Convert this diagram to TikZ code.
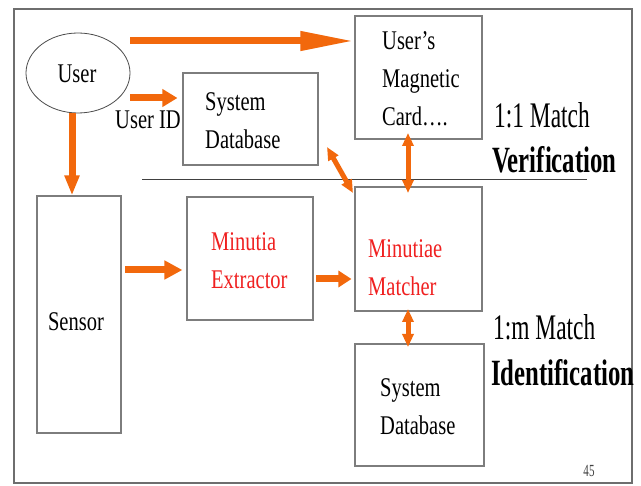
\documentclass[tikz,border=0pt]{standalone}
\usepackage{fontspec}
\setmainfont{Liberation Serif}
\newfontfamily\boxfont[FakeStretch=0.76]{Liberation Serif}
\newfontfamily\labfont[FakeStretch=0.65]{Liberation Serif}
\newfontfamily\blabfont[FakeStretch=0.67]{Liberation Serif}
\usetikzlibrary{arrows.meta,calc,shapes.geometric}
\definecolor{arrorange}{RGB}{242,104,12}
\definecolor{redtxt}{RGB}{240,32,32}
\definecolor{boxgray}{RGB}{125,125,125}
\definecolor{framegray}{RGB}{110,110,110}
\tikzset{
  boxnode/.style={draw=boxgray, line width=1.1pt, rectangle, inner sep=0pt},
  txt/.style={font=\boxfont\fontsize{27}{38}\selectfont, align=left, inner sep=0pt},
  redt/.style={txt, text=redtxt},
  lab/.style={font=\labfont\fontsize{36}{40}\selectfont, inner sep=0pt, anchor=west},
  blab/.style={font=\blabfont\bfseries\fontsize{37}{40}\selectfont, inner sep=0pt, anchor=west},
  oarrow/.style={draw=arrorange, line width=7pt},
  darrow/.style={draw=arrorange, line width=5pt, {Triangle[length=13pt,width=11pt]}-{Triangle[length=13pt,width=11pt]}},
}
\begin{document}
\begin{tikzpicture}[x=1pt,y=-1pt]
\useasboundingbox (0,0) rectangle (641,486);
\fill[white] (0,0) rectangle (641,486);
% frame
\draw[framegray, line width=1.3pt] (14,9) rectangle (632,483);

% nodes
\node[ellipse, draw=black!70, line width=0.8pt, minimum width=104pt, minimum height=80pt, inner sep=0pt] (user) at (78,73) {};
\node[txt] (usertxt) at (77,74) {User};

\node[boxnode, minimum width=127pt, minimum height=123pt] (card) at (418.5,77.5) {};
\node[txt, anchor=west] (cardtxt) at (382,79) {User’s\\Magnetic\\Card\ldots.};

\node[boxnode, minimum width=135pt, minimum height=92pt] (db1) at (250.5,119) {};
\node[txt, anchor=west] (db1txt) at (205,121) {System\\Database};

\node[boxnode, minimum width=84pt, minimum height=237pt] (sensor) at (79,314.5) {};
\node[txt] (sensortxt) at (76,322) {Sensor};

\node[boxnode, minimum width=126pt, minimum height=123pt] (extr) at (250,258.5) {};
\node[redt, anchor=west] (extrtxt) at (211,261) {Minutia\\Extractor};

\node[boxnode, minimum width=127pt, minimum height=124pt] (match) at (418.5,249) {};
\node[redt, anchor=west] (matchtxt) at (368,268) {Minutiae\\Matcher};

\node[boxnode, minimum width=129pt, minimum height=122pt] (db2) at (419.5,405) {};
\node[txt, anchor=west] (db2txt) at (380,407) {System\\Database};

\node[txt] (userid) at (148,120) {User ID};

\node[lab] (m11) at (494,115) {1:1 Match};
\node[blab] (verif) at (492,160) {Verification};
\node[lab] (m1m) at (493,327) {1:m Match};
\node[blab] (ident) at (491,373) {Identification};

\node[font=\labfont\fontsize{17}{17}\selectfont, text=black!75, inner sep=0pt] (pg) at (589,471) {45};

% separator line
\coordinate (sepL) at (142,180);
\coordinate (sepR) at (587,180);
\draw[black!75, line width=1pt] (sepL) -- (sepR);

% arrows
\coordinate (a1s) at (130,41);
\draw[oarrow, -{Triangle[length=54pt,width=18pt]}] (a1s) -- (a1s -| card.west);

\coordinate (a2s) at (130,98);
\draw[oarrow, -{Triangle[length=15pt,width=17pt]}, shorten >=5pt] (a2s) -- (a2s -| db1.west);

\coordinate (a3s) at (72,113);
\draw[oarrow, -{Triangle[length=20pt,width=14pt]}] (a3s) -- (a3s |- sensor.north);

\coordinate (a4s) at (125,270);
\draw[oarrow, -{Triangle[length=18pt,width=18pt]}, shorten >=4pt] (a4s) -- (a4s -| extr.west);

\coordinate (a5s) at (316,279);
\draw[oarrow, -{Triangle[length=13pt,width=16pt]}, shorten >=3pt] (a5s) -- (a5s -| match.west);

\coordinate (a6t) at (408,133);
\coordinate (a6b) at (408,193);
\draw[darrow] (a6t) -- (a6b);

\coordinate (a7a) at (327,147);
\coordinate (a7b) at (353,193);
\draw[darrow] (a7a) -- (a7b);

\coordinate (a8t) at (408,309);
\coordinate (a8b) at (408,347);
\draw[darrow] (a8t) -- (a8b);
\end{tikzpicture}
\end{document}
